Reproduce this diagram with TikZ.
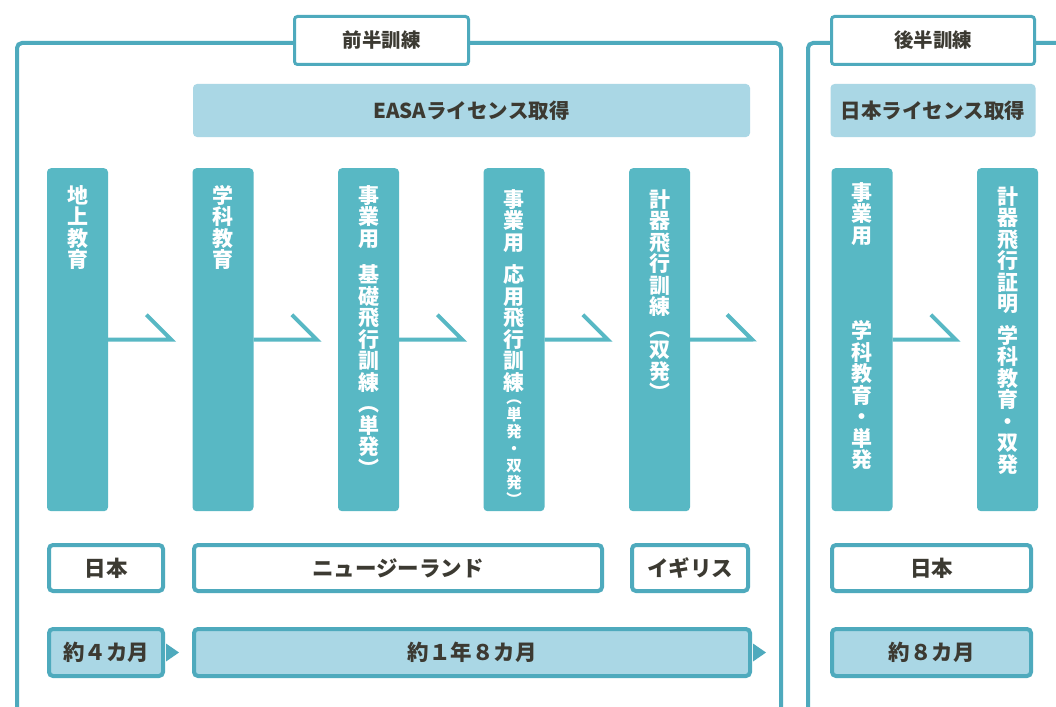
\documentclass[tikz,border=0pt]{standalone}
\usepackage{fontspec}
\setmainfont{Noto Sans CJK JP}
\usetikzlibrary{positioning}
\definecolor{framecol}{RGB}{78,170,189}
\definecolor{colfill}{RGB}{88,184,196}
\definecolor{barcol}{RGB}{170,215,229}
\definecolor{inkcol}{RGB}{60,58,50}
\begin{document}
\begin{tikzpicture}[x=1pt,y=-1pt,
        outline/.style={draw=framecol,line width=4pt,rounded corners=5pt},
        ttlbox/.style={draw=framecol,line width=3pt,fill=white,rounded corners=3pt,
            minimum height=48pt,text=inkcol,font=\fontsize{19.5}{19.5}\selectfont\bfseries},
        licbar/.style={fill=barcol,rounded corners=4pt,minimum height=53pt,
            text=inkcol,font=\fontsize{20.5}{20.5}\selectfont\bfseries},
        colbox/.style={fill=colfill,rounded corners=4pt,minimum width=61pt,
            minimum height=343pt,anchor=north,inner sep=0pt},
        vlabel/.style={text=white,align=center,inner sep=0pt,
            font=\fontsize{21}{21.5}\selectfont\bfseries},
        vsmall/.style={vlabel,font=\fontsize{15.5}{17}\selectfont\bfseries},
        flowline/.style={draw=colfill,line width=4pt},
        placebox/.style={draw=framecol,line width=4pt,fill=white,rounded corners=4pt,
            minimum height=46pt,text=inkcol,font=\fontsize{21.5}{21.5}\selectfont\bfseries},
        spanbox/.style={placebox,fill=barcol,minimum height=47pt},
        tipmark/.style={fill=framecol}]
                \useasboundingbox (0,0) rectangle (1056,706);
                \clip (0,0) rectangle (1056,706);
                \fill[white] (0,0) rectangle (1056,706);

                \draw[outline] (17,730) -- (17,43) -- (781,43) -- (781,730);
                \draw[outline] (808,730) -- (808,43) -- (1090,43);

                \node[ttlbox,minimum width=174pt] (ttl1) at (381.5,40.5) {前半訓練};
                \node[ttlbox,minimum width=203pt] (ttl2) at (933,40.5) {後半訓練};

                \node[licbar,minimum width=557pt] (lic1) at (471.5,110.5) {EASAライセンス取得};
                \node[licbar,minimum width=205pt] (lic2) at (933,110.5) {日本ライセンス取得};

                \node[colbox] (c1) at (77.5,168) {};
                \node[colbox] (c2) at (223,168) {};
                \node[colbox] (c3) at (368.5,168) {};
                \node[colbox] (c4) at (514,168) {};
                \node[colbox] (c5) at (659.5,168) {};
                \node[colbox] (c6) at (862,168) {};
                \node[colbox] (c7) at (1007.5,168) {};

                \node[vlabel,below=17pt of c1.north] (t1) {地\\上\\教\\育};
                \node[vlabel,below=17pt of c2.north] (t2) {学\\科\\教\\育};
                \node[vlabel,below=17pt of c3.north] (t3)
                    {事\\業\\用\\[15pt]基\\礎\\飛\\行\\訓\\練\\︵\\単\\発\\︶};
                \node[vlabel,below=21pt of c4.north] (t4)
                    {事\\業\\用\\[11pt]応\\用\\飛\\行\\訓\\練};
                \node[vsmall,below=7pt of t4] (t4b) {︵\\単\\発\\・\\双\\発\\︶};
                \node[vlabel,below=21pt of c5.north] (t5)
                    {計\\器\\飛\\行\\訓\\練\\︵\\双\\発\\︶};
                \node[vlabel,below=14pt of c6.north] (t6)
                    {事\\業\\用\\[74pt]学\\科\\教\\育\\・\\単\\発};
                \node[vlabel,below=18pt of c7.north] (t7)
                    {計\\器\\飛\\行\\証\\明\\[10pt]学\\科\\教\\育\\・\\双\\発};

                \coordinate (e5) at (752,339.5);
                \draw[flowline] (c1.east) -- ([xshift=-21pt]c2.west) -- ++(-25,-25);
                \draw[flowline] (c2.east) -- ([xshift=-21pt]c3.west) -- ++(-25,-25);
                \draw[flowline] (c3.east) -- ([xshift=-21pt]c4.west) -- ++(-25,-25);
                \draw[flowline] (c4.east) -- ([xshift=-21pt]c5.west) -- ++(-25,-25);
                \draw[flowline] (c5.east) -- (e5) -- ++(-25,-25);
                \draw[flowline] (c6.east) -- ([xshift=-21pt]c7.west) -- ++(-25,-25);

                \node[placebox,minimum width=114pt] (p1) at (106,568) {日本};
                \node[placebox,minimum width=408pt] (p2) at (398,568) {ニュージーランド};
                \node[placebox,minimum width=116pt] (p3) at (690,568) {イギリス};
                \node[placebox,minimum width=199pt] (p4) at (931.5,568) {日本};

                \node[spanbox,minimum width=114pt] (d1) at (106,652.5) {約４カ月};
                \node[spanbox,minimum width=556pt] (d2) at (472,652.5) {約１年８カ月};
                \node[spanbox,minimum width=199pt] (d3) at (931.5,652.5) {約８カ月};

                \fill[tipmark] (d1.east) ++(1,-9) -- ++(13,9) -- ++(-13,9) -- cycle;
                \fill[tipmark] (d2.east) ++(1,-9) -- ++(13,9) -- ++(-13,9) -- cycle;
            \end{tikzpicture}
\end{document}
